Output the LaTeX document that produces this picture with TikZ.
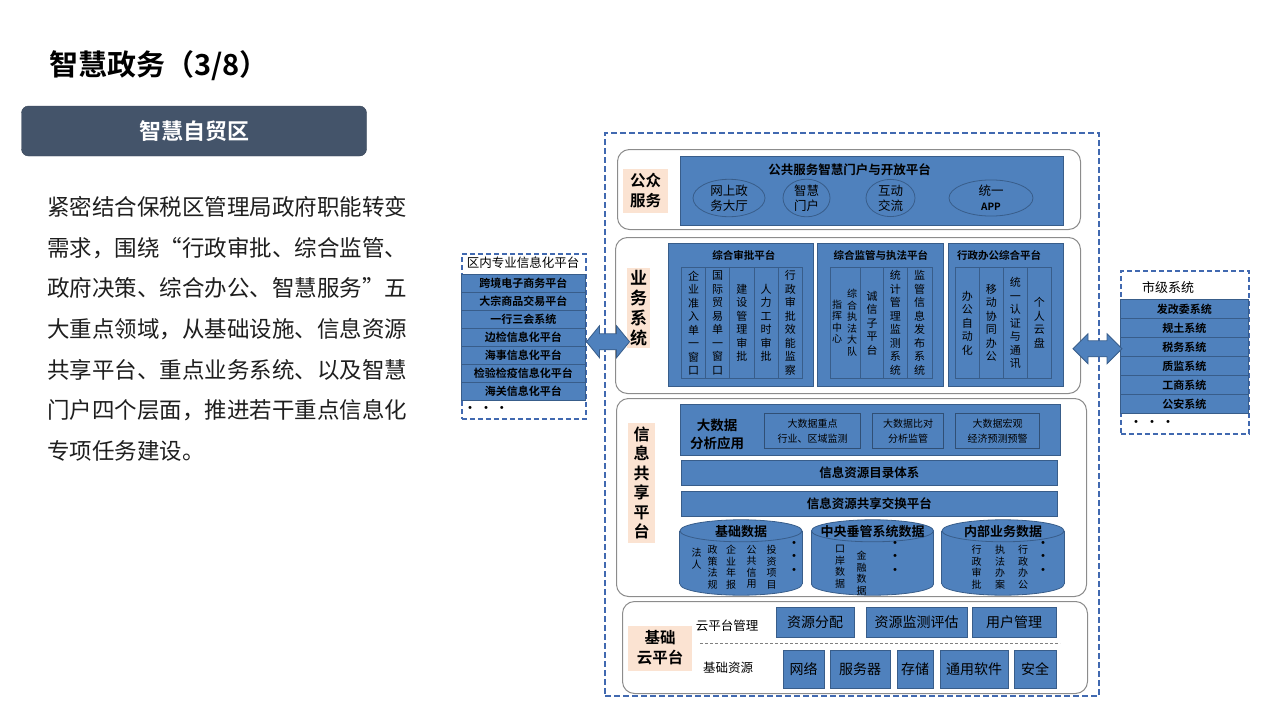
\documentclass[tikz,border=0pt]{standalone}
\usepackage{fontspec}
\setmainfont{Noto Sans CJK SC}[BoldFont={Noto Sans CJK SC Bold}]
\XeTeXlinebreaklocale "zh"
\XeTeXlinebreakskip=0pt plus 1pt
\usetikzlibrary{shapes.geometric}
\definecolor{boxblue}{HTML}{4F81BD}
\definecolor{edgeblue}{HTML}{385D8A}
\definecolor{frameblue}{HTML}{4169B0}
\definecolor{peach}{HTML}{FBE3D2}
\definecolor{slate}{HTML}{44546A}
\definecolor{bodytext}{HTML}{1E1E1E}
\newcommand{\fs}[2]{\fontsize{#1}{#2}\selectfont}

\begin{document}
\begin{tikzpicture}[x=1pt,y=-1pt,
  layer/.style={draw=gray!90,line width=1pt,rounded corners=12pt,anchor=north west,inner sep=0pt},
  tagbox/.style={fill=peach,inner sep=0pt,align=center,font=\bfseries\fs{15.5}{20}},
  bluebox/.style={draw=edgeblue,fill=boxblue,line width=0.8pt,anchor=north west,inner sep=0pt},
  minibox/.style={bluebox,line width=1.2pt,draw=edgeblue!85!black,align=center,font=\fs{10}{15}},
  vcol/.style={bluebox,minimum height=111pt,text width=12pt,align=center,font=\fs{11}{13.5}},
  vsmall/.style={anchor=north,text width=11pt,align=center,inner sep=0pt,font=\fs{10}{11.5}},
  pill/.style={ellipse,draw=edgeblue,fill=boxblue,line width=0.8pt,minimum height=30.6pt,inner sep=0pt,align=center,font=\fs{12.5}{15}},
  rowbox/.style={bluebox,font=\bfseries\fs{11}{13}},
  resbox/.style={bluebox,anchor=center,font=\fs{14}{16}},
  dbase/.style={inner sep=0pt,minimum width=122pt,minimum height=75pt},
  dbline/.style={draw=edgeblue,fill=boxblue,line width=0.8pt},
  sidepanel/.style={draw=frameblue,line width=1.5pt,dash pattern=on 5pt off 3pt,anchor=north west,inner sep=0pt},
  biarrow/.style={draw=edgeblue,fill=boxblue,line width=0.8pt},
  dots/.style={inner sep=0pt,font=\bfseries\fs{12}{13.5},align=center}]
\useasboundingbox (0,0) rectangle (1280,720);

% left column
\node[anchor=west,font=\bfseries\fs{29}{34}] (title) at (46,66) {智慧政务（3/8）};
\node[fill=slate,draw=slate!80!black,rounded corners=7pt,minimum width=345pt,minimum height=50pt,text=white,font=\bfseries\fs{22}{26}] (tab) at (194,131) {智慧自贸区};
\node[anchor=north west,align=left,inner sep=0pt,text=bodytext,font=\fs{22.5}{40.7}] (intro) at (47,196) {紧密结合保税区管理局政府职能转变\\需求，围绕“行政审批、综合监管、\\政府决策、综合办公、智慧服务”五\\大重点领域，从基础设施、信息资源\\共享平台、重点业务系统、以及智慧\\门户四个层面，推进若干重点信息化\\专项任务建设。};

% architecture frame
\node[draw=frameblue,line width=2pt,dash pattern=on 6pt off 3pt,anchor=north west,inner sep=0pt,minimum width=494pt,minimum height=563pt] (frame) at (604,132) {};

% public service layer
\node[layer,minimum width=463pt,minimum height=80pt] (pub) at (617,149) {};
\node[tagbox,minimum width=45pt,minimum height=44pt] (pubtag) at (645.5,191) {公众\\服务};
\node[bluebox,minimum width=383pt,minimum height=69pt] (portal) at (680,156) {};
\node[font=\bfseries\fs{12.5}{15}] (portaltitle) at (849.5,170) {公共服务智慧门户与开放平台};
\node[pill,minimum width=72pt] (hall) at (729,198) {网上政\\务大厅};
\node[pill,minimum width=47pt] (gate) at (806.5,198) {智慧\\门户};
\node[pill,minimum width=49pt] (talk) at (890.5,198) {互动\\交流};
\node[pill,minimum width=84pt] (app) at (991,198) {统一\\{\bfseries\fs{10}{12}APP}};

% business layer
\node[layer,minimum width=465pt,minimum height=156pt] (biz) at (615,237) {};
\node[tagbox,text width=17pt,minimum width=23pt,minimum height=80pt,font=\bfseries\fs{17}{20}] (biztag) at (638.5,308) {业务系统};
\node[bluebox,minimum width=145pt,minimum height=143pt] (approve) at (668,243) {};
\node[font=\bfseries\fs{10.5}{12}] (approvet) at (743.8,255) {综合审批平台};
\foreach \t [count=\i] in {企业准入单一窗口,国际贸易单一窗口,建设管理审批,人力工时审批,行政审批效能监察}
  \node[vcol,minimum width=24.2pt] (ap\i) at ({681+24.2*(\i-1)},267) {\t};
\node[bluebox,minimum width=126pt,minimum height=143pt] (supervise) at (817,243) {};
\node[font=\bfseries\fs{10.5}{12}] (superviset) at (880.8,255) {综合监管与执法平台};
\node[vcol,minimum width=30pt] (sp1) at (830,267) {};
\node[vsmall,anchor=center] (sp1a) at (852,322.5) {综合执法大队};
\node[vsmall,anchor=center] (sp1b) at (837,321.5) {指挥中心};
\node[vcol,minimum width=23.3pt] (sp2) at (860,267) {诚信子平台};
\node[vcol,minimum width=23.4pt] (sp3) at (883.3,267) {统计管理监测系统};
\node[vcol,minimum width=25pt] (sp4) at (906.7,267) {监管信息发布系统};
\node[bluebox,minimum width=115pt,minimum height=143pt] (office) at (948,243) {};
\node[font=\bfseries\fs{10.5}{12}] (officet) at (999,255) {行政办公综合平台};
\foreach \t [count=\i] in {办公自动化,移动协同办公,统一认证与通讯,个人云盘}
  \node[vcol,minimum width=24pt] (of\i) at ({955+24*(\i-1)},267) {\t};

% information sharing layer
\node[layer,minimum width=470pt,minimum height=198pt] (share) at (616,398) {};
\node[tagbox,text width=16pt,minimum width=27pt,minimum height=120pt,font=\bfseries\fs{16}{19.5}] (sharetag) at (641.5,483) {信息共享平台};
\node[bluebox,minimum width=380pt,minimum height=51pt] (bigdata) at (680,404) {};
\node[align=center,font=\bfseries\fs{13.5}{18}] (bigdatat) at (717,434) {大数据\\分析应用};
\node[minibox,minimum width=96pt,minimum height=35pt] (bd1) at (764,413) {大数据重点\\行业、区域监测};
\node[minibox,minimum width=71pt,minimum height=35pt] (bd2) at (872,413) {大数据比对\\分析监管};
\node[minibox,minimum width=84pt,minimum height=35pt] (bd3) at (955,413) {大数据宏观\\经济预测预警};
\node[bluebox,minimum width=376pt,minimum height=25pt,font=\bfseries\fs{12.5}{15}] (catalog) at (681,460) {信息资源目录体系};
\node[bluebox,minimum width=376pt,minimum height=25pt,font=\bfseries\fs{12.5}{15}] (exchange) at (681,491) {信息资源共享交换平台};
\node[dbase] (db1) at (741,557.5) {};
\node[dbase] (db2) at (872.5,557.5) {};
\node[dbase] (db3) at (1003,557.5) {};
\foreach \n in {db1,db2,db3} {
  \draw[dbline] ([yshift=11pt]\n.south) ellipse (61 and 11);
  \fill[boxblue] ([yshift=-11pt]\n.north west) rectangle ([yshift=11pt]\n.south east);
  \draw[dbline] ([yshift=-11pt]\n.north west) -- ([yshift=11pt]\n.south west)
    ([yshift=-11pt]\n.north east) -- ([yshift=11pt]\n.south east);
  \draw[dbline] ([yshift=-11pt]\n.north) ellipse (61 and 11);
}
\node[font=\bfseries\fs{13}{15}] (db1t) at (741,532) {基础数据};
\node[font=\bfseries\fs{13}{15}] (db2t) at (872.5,532) {中央垂管系统数据};
\node[font=\bfseries\fs{13}{15}] (db3t) at (1003,532) {内部业务数据};
\node[vsmall] (d11) at (696.7,548) {法人};
\node[vsmall] (d12) at (712.7,545) {政策法规};
\node[vsmall] (d13) at (731,545) {企业年报};
\node[vsmall] (d14) at (751.7,545) {公共信用};
\node[vsmall] (d15) at (771.7,545) {投资项目};
\node[dots,anchor=north] (d16) at (794,541) {·\\·\\·};
\node[vsmall] (d21) at (840,545) {口岸数据};
\node[vsmall] (d22) at (861.7,551) {金融数据};
\node[dots,anchor=north] (d23) at (895,541) {·\\·\\·};
\node[vsmall] (d31) at (976.7,545) {行政审批};
\node[vsmall] (d32) at (1000,545) {执法办案};
\node[vsmall] (d33) at (1023,545) {行政办公};
\node[dots,anchor=north] (d34) at (1043,541) {·\\·\\·};

% cloud layer
\node[layer,minimum width=465pt,minimum height=92pt] (cloud) at (622,601) {};
\node[tagbox,minimum width=64pt,minimum height=45pt] (cloudtag) at (660,648) {基础\\云平台};
\node[font=\fs{12.5}{15}] (mgmt) at (727,626) {云平台管理};
\node[font=\fs{12.5}{15}] (res) at (728,668) {基础资源};
\draw[gray,line width=0.8pt,dash pattern=on 3pt off 2pt] (700,643) -- (1060,643);
\node[resbox,minimum width=78pt,minimum height=30pt] (alloc) at (815,622) {资源分配};
\node[resbox,minimum width=101pt,minimum height=30pt] (monitor) at (916.5,622) {资源监测评估};
\node[resbox,minimum width=84pt,minimum height=30pt] (users) at (1014,622) {用户管理};
\node[resbox,minimum width=41pt,minimum height=38pt] (net) at (803.5,669) {网络};
\node[resbox,minimum width=60pt,minimum height=38pt] (server) at (860,669) {服务器};
\node[resbox,minimum width=36pt,minimum height=38pt] (store) at (915,669) {存储};
\node[resbox,minimum width=68pt,minimum height=38pt] (soft) at (974,669) {通用软件};
\node[resbox,minimum width=42pt,minimum height=38pt] (safe) at (1035,669) {安全};

% side panels
\node[sidepanel,minimum width=124pt,minimum height=165pt] (zone) at (461,253) {};
\node[font=\fs{12.5}{15}] (zonet) at (523,263) {区内专业信息化平台};
\foreach \t [count=\i] in {跨境电子商务平台,大宗商品交易平台,一行三会系统,边检信息化平台,海事信息化平台,检验检疫信息化平台,海关信息化平台}
  \node[rowbox,minimum width=124pt,minimum height=18pt] (zone\i) at (461,{274+18*(\i-1)}) {\t};
\node[dots] (zonemore) at (486,409) {·\hspace{4pt}·\hspace{4pt}·};
\node[sidepanel,minimum width=128pt,minimum height=163pt] (city) at (1120,270) {};
\node[font=\fs{13}{15}] (cityt) at (1168,288) {市级系统};
\foreach \t [count=\i] in {发改委系统,规土系统,税务系统,质监系统,工商系统,公安系统}
  \node[rowbox,minimum width=128pt,minimum height=19pt] (city\i) at (1120,{299+19*(\i-1)}) {\t};
\node[dots] (citymore) at (1152,423) {·\hspace{4pt}·\hspace{4pt}·};

% exchange arrows
\draw[biarrow] ([yshift=-5.5pt]zone.east) -- ++(13,-16) -- ++(0,8) -- ++(17,0) -- ++(0,-8) -- ++(13,16) -- ++(-13,16) -- ++(0,-8) -- ++(-17,0) -- ++(0,8) -- cycle;
\draw[biarrow] ([xshift=2pt,yshift=3.5pt]city.west) -- ++(-15,-15) -- ++(0,7) -- ++(-19,0) -- ++(0,-7) -- ++(-15,15) -- ++(15,15) -- ++(0,-7) -- ++(19,0) -- ++(0,7) -- cycle;
\end{tikzpicture}
\end{document}
